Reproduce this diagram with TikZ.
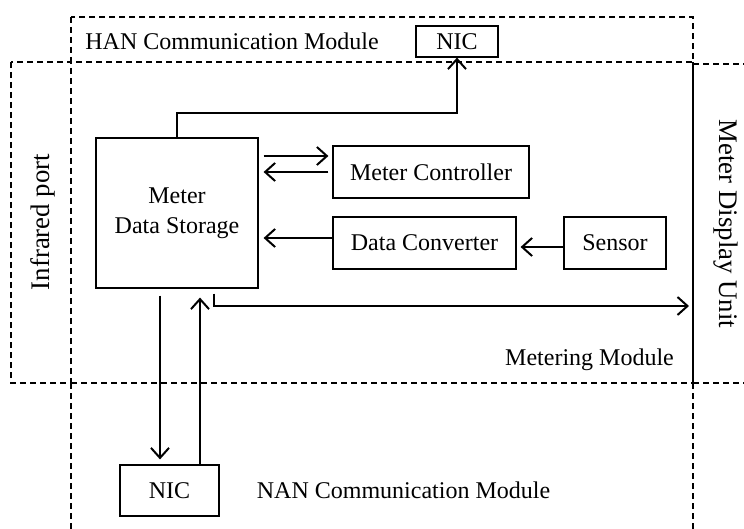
\documentclass[tikz,border=0pt]{standalone}
\usepackage{fontspec}
\setmainfont{Liberation Serif}
\usetikzlibrary{arrows.meta}

\begin{document}
\begin{tikzpicture}[x=0.5pt, y=-0.5pt,
    font=\fontsize{12}{15}\selectfont,
    block/.style={draw, line width=0.6pt, inner sep=0pt, align=center},
    sidelabel/.style={font=\fontsize{13.4}{16}\selectfont},
    region/.style={line width=1pt, dash pattern=on 3pt off 2pt},
    arr/.style={line width=1pt, -{Straight Barb[length=5pt,width=9pt,line width=1pt]}}]

    \useasboundingbox (0,0) rectangle (744,529);
    \clip (0,0) rectangle (744,529);

    \draw[region] (11,62) rectangle (71,383);
    \draw[region] (71,17) rectangle (693,62);
    \draw[region] (71,383) -- (693,383) (71,383) -- (71,540) (693,383) -- (693,540);
    \draw[region] (693,64) -- (760,64) (693,383) -- (760,383);
    \draw[line width=1pt] (693,62) -- (693,383);

    \node[block, minimum width=81pt, minimum height=75pt] at (177,213) (storage) {Meter\\Data Storage};
    \node[block, minimum width=98pt, minimum height=26pt] at (431,172) (ctrl) {Meter Controller};
    \node[block, minimum width=91.5pt, minimum height=26pt] at (424.5,243) (conv) {Data Converter};
    \node[block, minimum width=51pt, minimum height=26pt] at (615,243) (sensor) {Sensor};
    \node[block, minimum width=41pt, minimum height=15.5pt] at (457,41.5) (han_nic) {NIC};
    \node[block, minimum width=49.5pt, minimum height=25.5pt] at (169.5,490.5) (nan_nic) {NIC};

    \node at (232,41) (han_label) {HAN Communication Module};
    \node at (403.5,490) (nan_label) {NAN Communication Module};
    \node at (589.5,360) (metering_label) {Metering Module};
    \node[sidelabel, rotate=90] at (43,222) (infrared_label) {Infrared port};
    \node[sidelabel, rotate=-90] at (726,224) (display_label) {Meter Display Unit};

    \draw[arr] (storage.north) -- ++(0,-24) -| (han_nic.south);

    \coordinate (to_ctrl) at ([yshift=8pt]ctrl.west);
    \draw[arr, shorten <=2.5pt, shorten >=2pt] (storage.east |- to_ctrl) -- (to_ctrl);
    \draw[arr, shorten <=2pt, shorten >=2.5pt] (ctrl.west) -- (ctrl.west -| storage.east);

    \coordinate (from_conv) at ([yshift=2.5pt]conv.west);
    \draw[arr, shorten >=2.5pt] (from_conv) -- (from_conv -| storage.east);
    \coordinate (from_sensor) at ([yshift=-2pt]sensor.west);
    \draw[arr, shorten >=2pt] (from_sensor) -- (from_sensor -| conv.east);

    \coordinate (to_nan) at ([xshift=-8.5pt]storage.south);
    \draw[arr, shorten <=3.5pt, shorten >=2.5pt] (to_nan) -- (to_nan |- nan_nic.north);
    \coordinate (from_nan) at ([xshift=11.5pt]storage.south);
    \draw[arr, shorten >=4.5pt] (from_nan |- nan_nic.north) -- (from_nan);

    \coordinate (to_display) at (693,306);
    \draw[arr, shorten >=2pt] ([xshift=18.5pt,yshift=-2.5pt]storage.south) |- (to_display);

\end{tikzpicture}
\end{document}
